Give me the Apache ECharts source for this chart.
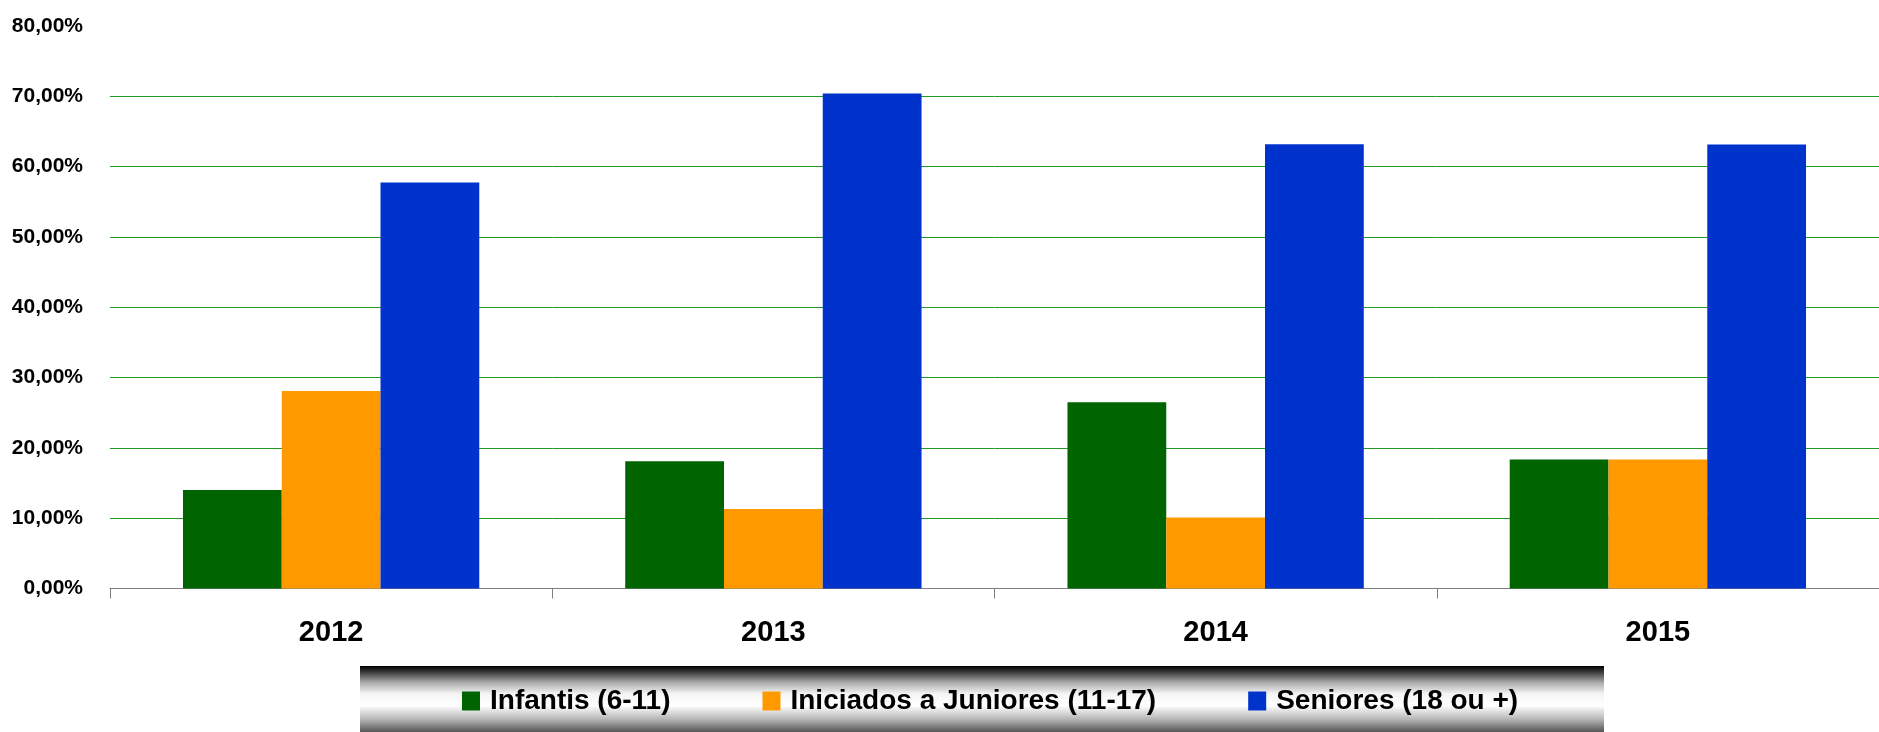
<!DOCTYPE html>
<html>
<head>
<meta charset="utf-8">
<script src="https://cdn.jsdelivr.net/npm/echarts@6/dist/echarts.min.js"></script>
<style>
html,body{margin:0;padding:0;background:#fff;}
#chart{width:1879px;height:732px;}
</style>
</head>
<body>
<div id="chart"></div>
<script>
const categories = ['2012', '2013', '2014', '2015'];
const seriesNames = ['Infantis (6-11)', 'Iniciados a Juniores (11-17)', 'Seniores (18 ou +)'];
const infantis = [14.0, 18.1, 26.5, 18.35];
const iniciados = [28.1, 11.3, 10.1, 18.35];
const seniores = [57.75, 70.4, 63.2, 63.15];
const colors = ['#006400', '#FF9900', '#0033CC'];

const FONT = '"Liberation Sans", Arial, sans-serif';
const chart = echarts.init(document.getElementById('chart'), null, {renderer: 'canvas'});

const values = [infantis, iniciados, seniores];
chart.setOption({
  animation: false,
  backgroundColor: '#ffffff',
  grid: {left: 110, right: 0, top: 26, bottom: 143.5, containLabel: false},
  graphic: [{
    type: 'rect',
    z: -1,
    shape: {x: 360, y: 666, width: 1244, height: 66},
    style: {
      fill: new echarts.graphic.LinearGradient(0, 0, 0, 1, [
        {offset: 0, color: '#000000'},
        {offset: 0.08, color: '#333333'},
        {offset: 0.25, color: '#aaaaaa'},
        {offset: 0.42, color: '#f4f4f4'},
        {offset: 0.6, color: '#ffffff'},
        {offset: 0.8, color: '#b8b8b8'},
        {offset: 1, color: '#555555'}
      ])
    }
  }],
  legend: {
    left: 457,
    top: 682,
    itemGap: 92,
    itemWidth: 18,
    itemHeight: 19,
    icon: 'rect',
    data: seriesNames,
    textStyle: {fontFamily: FONT, fontWeight: 'bold', fontSize: 28, color: '#000', lineHeight: 28, padding: [0, 0, 0, 5]}
  },
  xAxis: {
    type: 'category',
    data: categories,
    axisLine: {show: true, lineStyle: {color: '#808080', width: 1}},
    axisTick: {show: true, length: 10, lineStyle: {color: '#808080'}},
    axisLabel: {fontFamily: FONT, fontWeight: 'bold', fontSize: 29, color: '#000', margin: 30}
  },
  yAxis: {
    type: 'value',
    min: 0, max: 80, interval: 10,
    axisLine: {show: false},
    axisTick: {show: false},
    splitLine: {show: true, showMaxLine: false, lineStyle: {color: '#229922', width: 1}},
    axisLabel: {
      fontFamily: FONT, fontWeight: 'bold', fontSize: 21, color: '#000', margin: 27,
      formatter: v => v.toFixed(2).replace('.', ',') + '%'
    }
  },
  series: seriesNames.map((name, i) => ({
    name: name,
    type: 'bar',
    data: values[i],
    barGap: '0%',
    barCategoryGap: '33%',
    itemStyle: {color: colors[i]}
  }))
});
</script>
</body>
</html>
